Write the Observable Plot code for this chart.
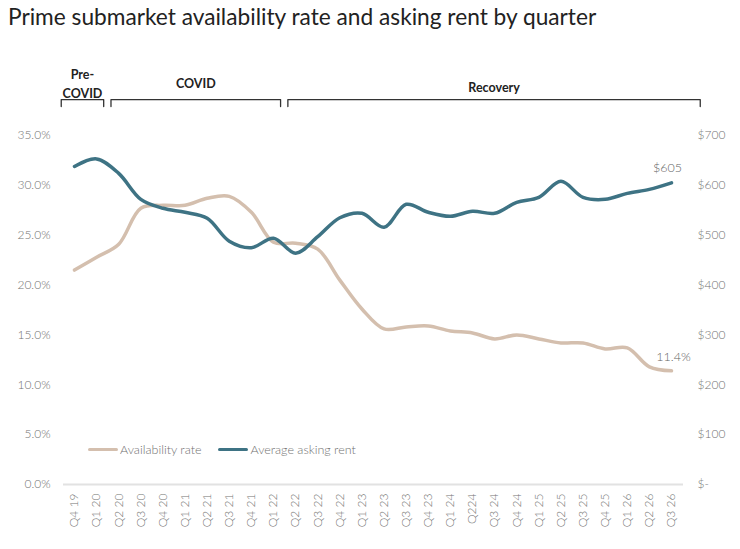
<!DOCTYPE html>
<html>
<head>
<meta charset="utf-8">
<script src="https://cdn.jsdelivr.net/npm/d3@7"></script>
<script src="https://cdn.jsdelivr.net/npm/@observablehq/plot@0.6"></script>
<style>
  html, body { margin: 0; padding: 0; background: #fff; }
  #wrap { position: relative; width: 740px; height: 549px; font-family: Lato, "Noto Sans", sans-serif; }
  #title { position: absolute; left: 8px; top: 2px; font-size: 22.7px; line-height: 30px; color: #222; white-space: nowrap; }
  #legend { position: absolute; left: 88px; top: 442px; display: flex; align-items: center; font-size: 12.5px; color: #707070; font-weight: 300; }
  #legend .item { display: flex; align-items: center; margin-right: 17px; }
  #legend .sw { width: 30px; height: 3.5px; border-radius: 2px; margin-right: 2px; }
</style>
</head>
<body>
<div id="wrap">
  <div id="title">Prime submarket availability rate and asking rent by quarter</div>
  <div id="chart"></div>
  <div id="legend"></div>
</div>
<script>
// Quarter labels along the x axis
const quarters = ["Q4 19","Q1 20","Q2 20","Q3 20","Q4 20","Q1 21","Q2 21","Q3 21","Q4 21","Q1 22",
  "Q2 22","Q3 22","Q4 22","Q1 23","Q2 23","Q3 23","Q4 23","Q1 24","Q224","Q3 24",
  "Q4 24","Q1 25","Q2 25","Q3 25","Q4 25","Q1 26","Q2 26","Q3 26"];

// Availability rate, percent
const availability = [21.5, 22.8, 24.1, 27.7, 28.0, 28.0, 28.7, 28.9, 27.3, 24.3,
  24.2, 23.6, 20.5, 17.6, 15.6, 15.8, 15.9, 15.4, 15.2, 14.6,
  15.0, 14.6, 14.2, 14.2, 13.6, 13.7, 11.8, 11.4];

// Average asking rent, dollars
const askingRent = [638, 653, 624, 572, 554, 546, 534, 488, 475, 494,
  464, 497, 535, 544, 516, 562, 546, 538, 548, 544,
  566, 576, 608, 576, 572, 584, 592, 605];

// Period brackets above the chart
const phases = [
  {label: "Pre-\nCOVID", from: "Q4 19", to: "Q1 20"},
  {label: "COVID", from: "Q2 20", to: "Q1 22"},
  {label: "Recovery", from: "Q2 22", to: "Q3 26"}
];

// Left-axis ticks (percent) and matching right-axis ticks (dollars)
const pctTicks = [0, 5, 10, 15, 20, 25, 30, 35];
const rentPerPct = 20; // $700 sits level with 35%

const availColor = "#d4bfae";
const rentColor = "#3e7384";

const rows = quarters.map((q, i) => ({i, q, avail: availability[i], rent: askingRent[i]}));
const last = rows[rows.length - 1];

// bracket geometry in index units
const bracketRows = [];
const bracketLabels = [];
phases.forEach((p, k) => {
  const a = quarters.indexOf(p.from) - (k === 0 ? 0.6 : 0.35);
  const b = quarters.indexOf(p.to) + (k === phases.length - 1 ? 1.3 : 0.32);
  const lo = 37.9, hi = 38.6;
  bracketRows.push({k, x: a, y: lo}, {k, x: a, y: hi}, {k, x: b, y: hi}, {k, x: b, y: lo});
  bracketLabels.push({label: p.label, x: (a + b) / 2, y: p.label === "Recovery" ? 39.9 : 40.3});
});

const tickFont = {fill: "#737373", fontSize: 12, fontWeight: 300};

const plot = Plot.plot({
  width: 740,
  height: 549,
  marginTop: 135,
  marginBottom: 65,
  marginLeft: 63,
  marginRight: 57,
  style: {fontFamily: "Lato, 'Noto Sans', sans-serif", fontSize: "12px", background: "transparent"},
  x: {domain: [0, quarters.length - 1], insetLeft: 11, insetRight: 12},
  y: {domain: [0, 35]},
  marks: [
    Plot.ruleY([0], {stroke: "#e2e2e2", strokeWidth: 2}),
    Plot.axisY(pctTicks, {anchor: "left", tickSize: 0, tickPadding: 13, tickFormat: d => d.toFixed(1) + "%", label: null, ...tickFont}),
    Plot.axisY(pctTicks, {anchor: "right", tickSize: 0, tickPadding: 14, tickFormat: d => d === 0 ? "$-" : "$" + d * rentPerPct, label: null, ...tickFont}),
    Plot.axisX(d3.range(quarters.length), {anchor: "bottom", tickSize: 0, tickPadding: 9, tickRotate: -90, tickFormat: i => quarters[i], label: null, ...tickFont}),
    Plot.line(rows, {x: "i", y: "avail", stroke: availColor, strokeWidth: 3.5, curve: "catmull-rom"}),
    Plot.line(rows, {x: "i", y: d => d.rent / rentPerPct, stroke: rentColor, strokeWidth: 3.5, curve: "catmull-rom"}),
    Plot.text([last], {x: "i", y: d => d.rent / rentPerPct, text: d => "$" + d.rent, dy: -15, dx: -4, fill: "#666", fontSize: 12.5, fontWeight: 300}),
    Plot.text([last], {x: "i", y: "avail", text: d => d.avail.toFixed(1) + "%", dy: -14, dx: 2, fill: "#666", fontSize: 12.5, fontWeight: 300}),
    Plot.line(bracketRows, {x: "x", y: "y", z: "k", stroke: "#333", strokeWidth: 1.3}),
    Plot.text(bracketLabels, {x: "x", y: "y", text: "label", fill: "#222", fontSize: 12.5, fontWeight: "bold", lineHeight: 1.45})
  ]
});
document.getElementById("chart").appendChild(plot);

// legend
const legend = d3.select("#legend");
[["Availability rate", availColor], ["Average asking rent", rentColor]].forEach(([name, color]) => {
  const item = legend.append("div").attr("class", "item");
  item.append("div").attr("class", "sw").style("background", color);
  item.append("span").text(name);
});
</script>
</body>
</html>
